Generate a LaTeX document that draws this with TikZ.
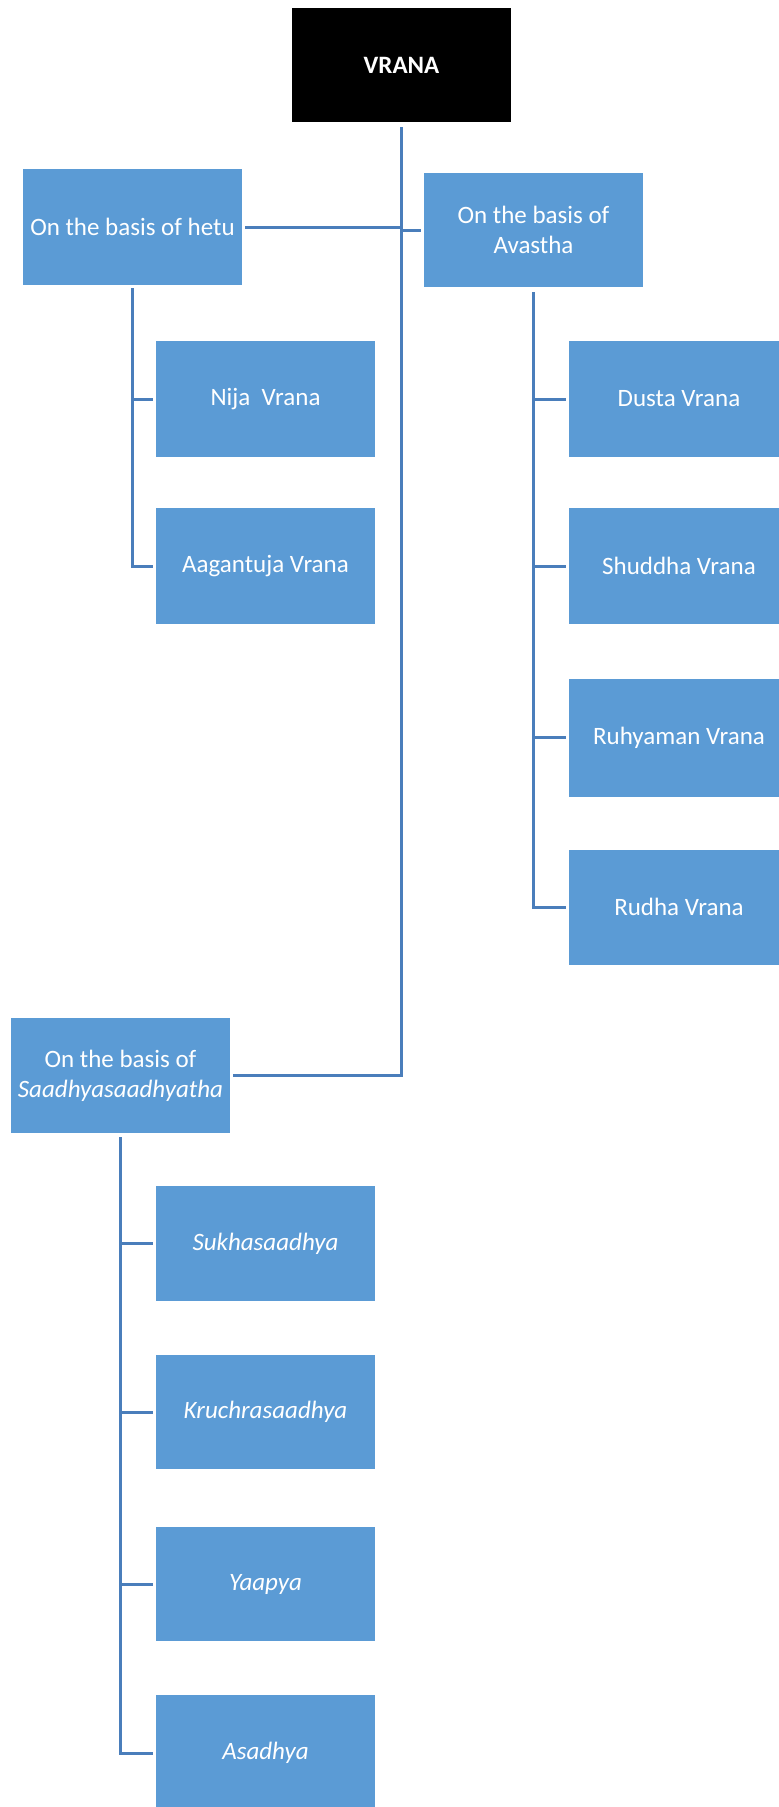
\documentclass[tikz,border=0pt]{standalone}
\usepackage{fontspec}
\setmainfont{Carlito}
\tikzset{
  box/.style={fill=boxblue, text=white, inner sep=0pt, minimum width=219pt, minimum height=116pt, align=center, font=\fontsize{25}{30}\selectfont},
  topbox/.style={box, fill=black, font=\fontsize{25}{30}\selectfont\bfseries},
  link/.style={draw=lineblue, line width=3pt}
}
\definecolor{boxblue}{HTML}{5B9BD5}
\definecolor{lineblue}{HTML}{4A7EBB}
\begin{document}
\begin{tikzpicture}[x=1pt, y=-1pt]
\clip (0,0) rectangle (779,1807);
\fill[white] (0,0) rectangle (779,1807);
% nodes
\node[topbox, minimum height=114pt] (vrana) at (401.5,65) {VRANA};
\node[box] (hetu) at (132.5,227) {On the basis of hetu};
\node[box, minimum height=114pt] (avastha) at (533.5,230) {On the basis of\\Avastha};
\node[box] (nija) at (265.5,399) {Nija\ \ Vrana};
\node[box] (aag) at (265.5,566) {Aagantuja Vrana};
\node[box, minimum width=220pt] (dusta) at (679,399) {Dusta Vrana};
\node[box, minimum width=220pt] (shuddha) at (679,566) {Shuddha Vrana};
\node[box, minimum width=220pt, minimum height=118pt] (ruhy) at (679,737.5) {Ruhyaman Vrana};
\node[box, minimum width=220pt, minimum height=115pt] (rudha) at (679,907) {Rudha Vrana};
\node[box, minimum height=115pt] (saadhya) at (120.5,1075.5) {On the basis of\\\textit{Saadhyasaadhyatha}};
\node[box, minimum height=115pt] (sukha) at (265.5,1243.5) {\textit{Sukhasaadhya}};
\node[box, minimum height=114pt] (kruch) at (265.5,1412) {\textit{Kruchrasaadhya}};
\node[box, minimum height=114pt] (yaapya) at (265.5,1584) {\textit{Yaapya}};
\node[box] (asadhya) at (265.5,1753) {\textit{Asadhya}};
% trunk
\draw[link, shorten <=5pt, shorten >=3pt] (vrana.south) |- (saadhya.east);
\draw[link, shorten <=3pt] (hetu.east) -- (hetu.east -| vrana.south);
\draw[link, shorten >=3pt] (avastha.west -| vrana.south) -- (avastha.west);
% hetu branch
\draw[link, shorten <=3pt, shorten >=3pt] (hetu.south) |- (aag.west);
\draw[link, shorten >=3pt] (nija.west -| hetu.south) -- (nija.west);
% avastha branch
\draw[link, shorten <=5pt, shorten >=3pt] (avastha.south) |- (rudha.west);
\draw[link, shorten >=3pt] (dusta.west -| avastha.south) -- (dusta.west);
\draw[link, shorten >=3pt] (shuddha.west -| avastha.south) -- (shuddha.west);
\draw[link, shorten >=3pt] (ruhy.west -| avastha.south) -- (ruhy.west);
% saadhya branch
\draw[link, shorten <=4pt, shorten >=3pt] (saadhya.south) |- (asadhya.west);
\draw[link, shorten >=3pt] (sukha.west -| saadhya.south) -- (sukha.west);
\draw[link, shorten >=3pt] (kruch.west -| saadhya.south) -- (kruch.west);
\draw[link, shorten >=3pt] (yaapya.west -| saadhya.south) -- (yaapya.west);
\end{tikzpicture}
\end{document}
